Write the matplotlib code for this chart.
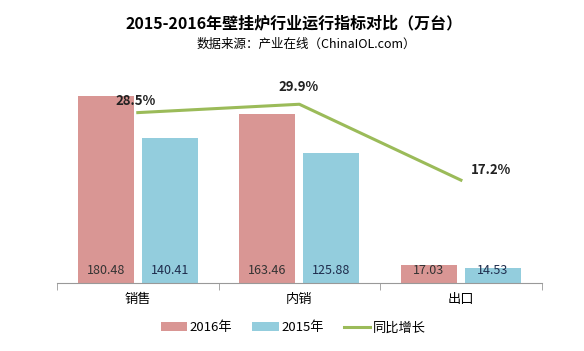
import numpy as np
import matplotlib.pyplot as plt

plt.rcParams['font.family'] = ['Noto Sans CJK SC', 'DejaVu Sans']

categories = ['销售', '内销', '出口']
v2016 = [180.48, 163.46, 17.03]
v2015 = [140.41, 125.88, 14.53]
growth = [28.5, 29.9, 17.2]
growth_labels = ['28.5%', '29.9%', '17.2%']

c16 = '#D99694'
c15 = '#93CDDD'
cg = '#9BBB59'

fig = plt.figure(figsize=(5.84, 3.51), dpi=100)
ax = fig.add_axes([0.0976, 0.194, 0.83, 0.589])
x = np.arange(len(categories))
w = 0.346
off = 0.198
b1 = ax.bar(x - off, v2016, w, color=c16, label='2016年')
b2 = ax.bar(x + off, v2015, w, color=c15, label='2015年')
for xi, v in zip(x, v2016):
    ax.text(xi - off, 12, f'{v:.2f}', ha='center', va='center', fontsize=9, color='#333333')
for xi, v in zip(x, v2015):
    ax.text(xi + off, 12, f'{v:.2f}', ha='center', va='center', fontsize=9, color='#1f2d4d')
ax.set_xlim(-0.5, 2.5)
ax.set_ylim(0, 200)
ax.set_yticks([])
ax.set_xticks(x)
ax.set_xticklabels(categories, fontsize=9.5)
ax.set_xticks([-0.5, 0.5, 1.5, 2.5], minor=True)
ax.tick_params(axis='x', which='major', length=0, pad=7)
ax.tick_params(axis='x', which='minor', length=5, color='#999999')
for s in ['top', 'right', 'left']:
    ax.spines[s].set_visible(False)
ax.spines['bottom'].set_color('#999999')

ax2 = ax.twinx()
ln, = ax2.plot(x, growth, color=cg, lw=2.2, label='同比增长')
ax2.set_ylim(0, 34.6)
ax2.set_yticks([])
for s in ['top', 'right', 'left', 'bottom']:
    ax2.spines[s].set_visible(False)
offs = [(-2, 12), (-1, 17), (30, 10)]
for xi, g, t, (dx, dy) in zip(x, growth, growth_labels, offs):
    ax2.annotate(t, (xi, g), xytext=(dx, dy), textcoords='offset pixels',
                 ha='center', va='center', fontsize=9.5, fontweight='bold', color='#222222')

fig.text(0.503, 0.934, '2015-2016年壁挂炉行业运行指标对比（万台）', ha='center', va='center',
         fontsize=11.5, fontweight='bold')
fig.text(0.524, 0.875, '数据来源：产业在线（ChinaIOL.com）', ha='center', va='center', fontsize=9)

fig.legend(handles=[b1, b2, ln], loc='center', bbox_to_anchor=(0.502, 0.066), ncol=3,
           frameon=False, fontsize=9.5, handlelength=2.0, handleheight=0.6, columnspacing=1.5,
           handletextpad=0.2)

fig.savefig('out.png', dpi=100)
